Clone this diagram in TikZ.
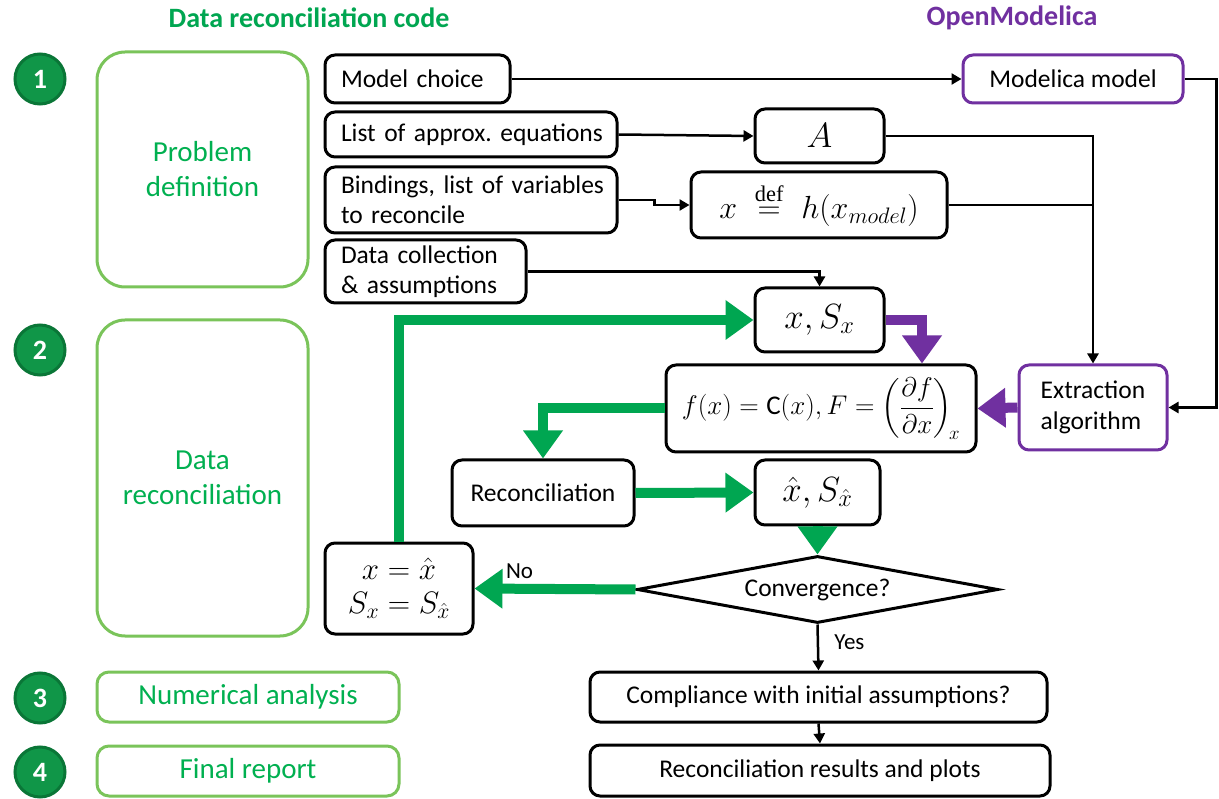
\RequirePackage{fix-cm}
\documentclass[tikz,border=0pt]{standalone}
\usepackage{amsmath}
\usepackage{fontspec}
\setmainfont{Carlito}
\newfontfamily\serifsm{Liberation Serif}
\usetikzlibrary{arrows.meta,shapes.geometric,calc}
\frenchspacing

\definecolor{titlegreen}{RGB}{0,166,81}
\definecolor{txtgreen}{RGB}{0,176,80}
\definecolor{edgegreen}{RGB}{122,196,90}
\definecolor{flowgreen}{RGB}{0,166,81}
\definecolor{discfill}{RGB}{16,150,72}
\definecolor{discedge}{RGB}{10,118,55}
\definecolor{purp}{RGB}{112,48,160}

\newcommand\txtsz{\fontsize{25.5}{30}\selectfont}
\newcommand\mathsz{\fontsize{35}{40}\selectfont}

\begin{document}
\begin{tikzpicture}[x=1pt,y=-1pt,
  title/.style={font=\fontsize{28}{32}\selectfont\bfseries},
  disc/.style={circle, fill=discfill, draw=discedge, line width=3pt,
    minimum size=50pt, inner sep=0pt, text=white,
    font=\fontsize{28}{32}\selectfont\bfseries},
  phase/.style={draw=edgegreen, line width=3pt, text=txtgreen, align=center,
    inner sep=0pt, font=\fontsize{29}{35}\selectfont},
  box/.style={draw, line width=3pt, rounded corners=10pt, inner sep=0pt,
    font=\txtsz, fill=white},
  pbox/.style={box, draw=purp},
  lbl/.style={font=\fontsize{23}{28}\selectfont},
  thin/.style={line width=2.5pt, -{Triangle[width=11pt,length=10pt]}},
  gflow/.style={draw=flowgreen, line width=10pt,
    -{Triangle[width=38pt,length=28pt]}},
  pflow/.style={draw=purp, line width=10pt,
    -{Triangle[width=38pt,length=28pt]}},
]
\useasboundingbox[fill=white] (0,0) rectangle (1219,799);

% column headings
\node[title, text=titlegreen] (hcode) at (309,18) {Data reconciliation code};
\node[title, text=purp] (hom) at (1012,18) {OpenModelica};

% numbered phase discs
\node[disc] (n1) at (40,79) {1};
\node[disc] (n2) at (40,350) {2};
\node[disc] (n3) at (40,698) {3};
\node[disc] (n4) at (40,772) {4};

% phase boxes
\node[phase, rounded corners=28pt, minimum width=211pt, minimum height=235pt]
  (ph1) at (202.5,169.5) {Problem\\definition};
\node[phase, rounded corners=28pt, minimum width=211pt, minimum height=316pt]
  (ph2) at (202.5,478) {Data\\reconciliation};
\node[phase, rounded corners=12pt, minimum width=302pt, minimum height=50pt]
  (ph3) at (248,697) {Numerical analysis};
\node[phase, rounded corners=12pt, minimum width=302pt, minimum height=50pt]
  (ph4) at (248,771) {Final report};

% problem definition inputs
\node[box, minimum width=185pt, minimum height=48pt, text width=153pt, align=left]
  (mc) at (417.5,79) {\mbox{Model choice}};
\node[box, minimum width=292pt, minimum height=45pt, text width=260pt, align=left]
  (le) at (471,134.5) {\mbox{List of approx. equations}};
\node[box, minimum width=292pt, minimum height=66pt, text width=260pt, align=left]
  (bd) at (471,200) {\mbox{Bindings, list of variables}\\to reconcile};
\node[box, minimum width=201pt, minimum height=63pt, text width=169pt, align=left]
  (dc) at (425.5,271.5) {Data collection\\\mbox{\& assumptions}};

% OpenModelica side
\node[pbox, minimum width=220pt, minimum height=48pt] (mm) at (1073,79) {Modelica model};
\node[pbox, minimum width=148pt, minimum height=85pt, align=left,
  font=\fontsize{25.5}{31}\selectfont] (ex) at (1093,407.5) {Extraction\\algorithm};

% intermediate quantities
\node[box, minimum width=129pt, minimum height=54pt, font=\mathsz] (am) at (819.5,136) {$A$};
\node[box, minimum width=256pt, minimum height=66pt, font=\fontsize{32}{38}\selectfont]
  (xd) at (819,205) {$x\;\stackrel{\text{\serifsm def}}{=}\;h(x_{model})$};
\node[box, minimum width=129pt, minimum height=64pt, font=\mathsz] (xs) at (819.5,320) {$x, S_x$};
\node[box, minimum width=310pt, minimum height=87pt, font=\fontsize{27}{32}\selectfont]
  (fb) at (821,408.5) {$f(x)=\mathrm{C}(x), F=\left(\dfrac{\partial f}{\partial x}\right)_{\!x}$};
\node[box, minimum width=182pt, minimum height=66pt] (rc) at (543,493) {Reconciliation};
\node[box, minimum width=125pt, minimum height=65pt, font=\mathsz] (xh) at (817.5,492.5) {$\hat{x}, S_{\hat{x}}$};
\node[box, minimum width=148pt, minimum height=91pt, font=\fontsize{31}{37}\selectfont, align=center]
  (xx) at (399,588.5) {$x=\hat{x}$\\[-3pt]$S_x=S_{\hat{x}}$};
\node[diamond, draw, line width=3pt, fill=white, aspect=5.4, inner sep=0pt,
  minimum width=361pt, minimum height=67pt, font=\txtsz] (cv) at (817.5,589.5) {Convergence?};
\node[box, minimum width=457pt, minimum height=50pt] (cp) at (818.5,697) {Compliance with initial assumptions?};
\node[box, minimum width=460pt, minimum height=51pt] (rr) at (820,770.5) {Reconciliation results and plots};

% thin black connectors
\draw[thin] (mc.east) -- (mm.west);
\draw[thin] (le.east) -- (am.west);
\draw[thin] (bd.east) -- ++(36,0) |- (xd.west);
\draw[thin] (dc.east) -| (xs.north);
\draw[thin] (am.east) -| (ex.north);
\draw[line width=2.5pt] (xd.east) -- (xd.east -| ex.north);
\draw[thin] (mm.east) -- ++(32,0) |- (ex.east);
\draw[thin] (cv.south) -- node[lbl, anchor=west, xshift=12pt, pos=0.38] (yes) {Yes} (cp.north);
\draw[thin] (cp.south) -- (rr.north);

% purple flows
\draw[pflow] (xs.east) -| ([xshift=101pt]fb.north);
\draw[pflow] (ex.west) -- (fb.west -| fb.east);

% green iteration loop
\draw[gflow] (fb.west) -| (rc.north);
\draw[gflow] (rc.east) -- (xh.west);
\draw[gflow] (xh.south) -- (cv.north);
\draw[gflow] (cv.west) -- node[lbl, above, pos=0.72, yshift=2pt] (no) {No} (xx.east);
\draw[gflow] (xx.north) |- (xs.west);
\end{tikzpicture}
\end{document}
